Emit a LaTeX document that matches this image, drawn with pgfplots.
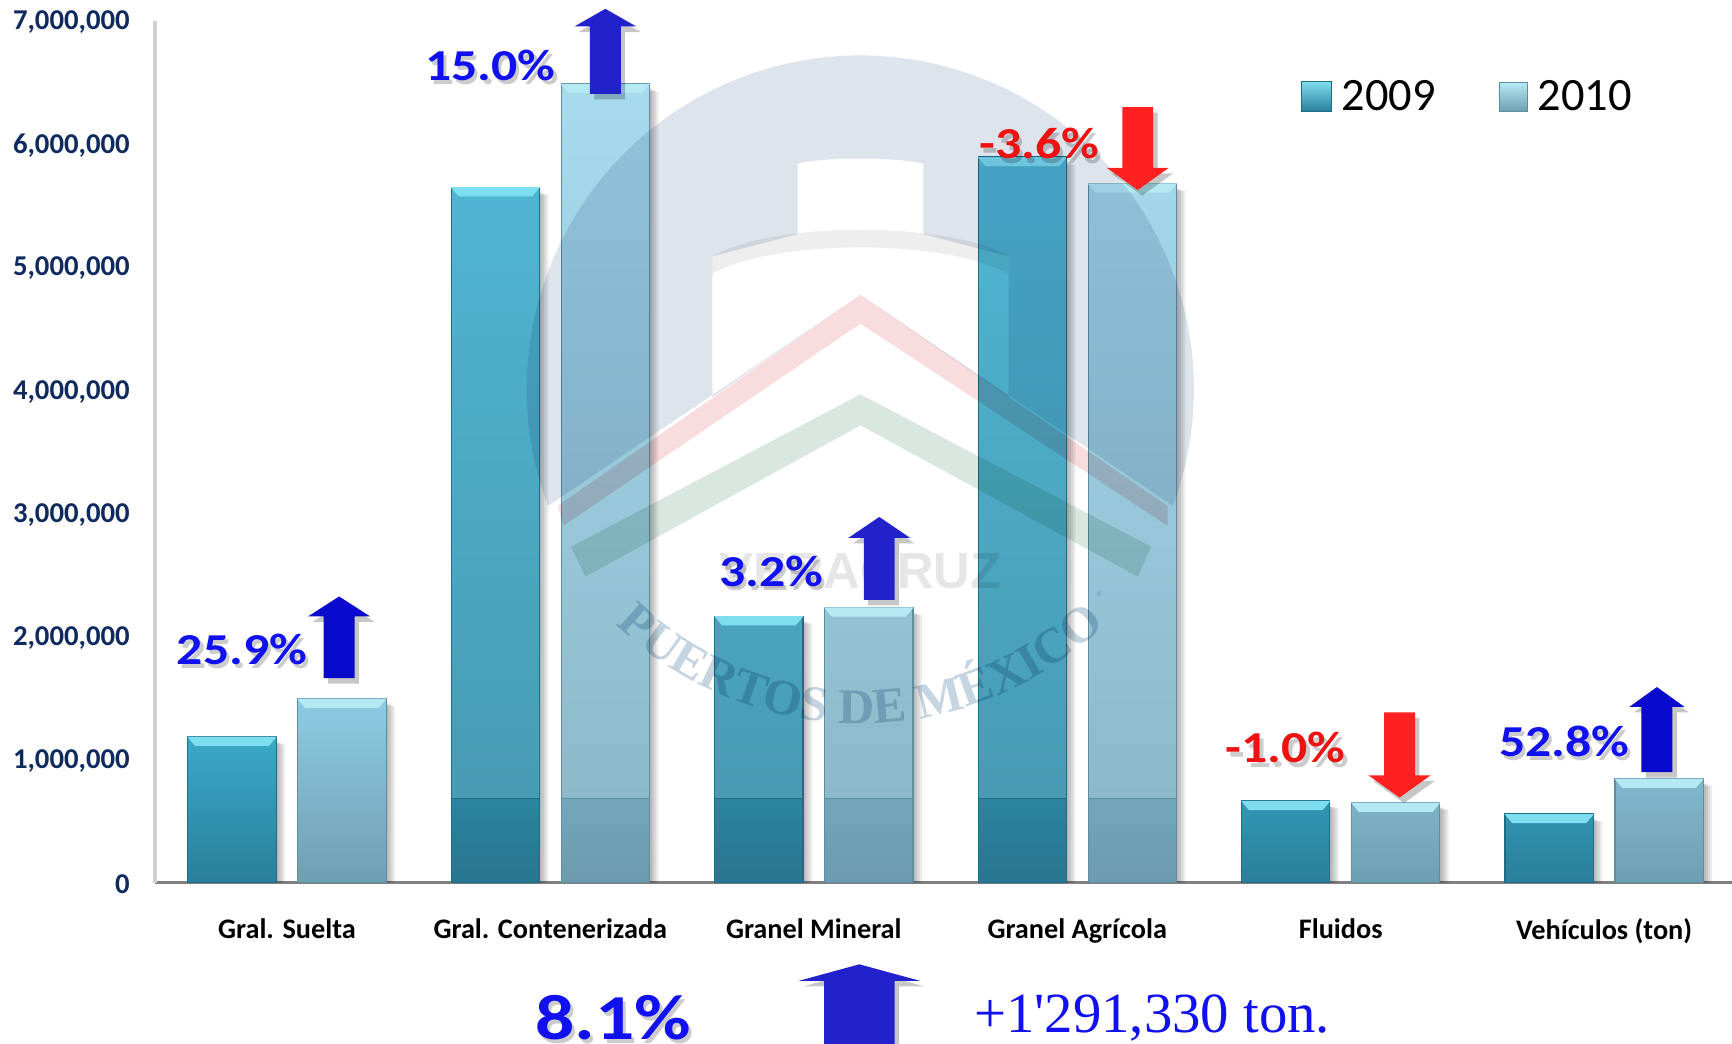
\documentclass[border=0pt]{standalone}
\usepackage{pgfplots}
\usepackage{pgfplotstable}
\pgfplotsset{compat=1.18}
\usepackage{fontspec}
\setmainfont{Carlito}
\newfontfamily\timesf{Liberation Serif}
\newfontfamily\arialf{Liberation Sans}
\usetikzlibrary{decorations.text}
\definecolor{nav}{HTML}{0F2A5F}
\definecolor{aS1}{HTML}{3AA9C8}\definecolor{aS2}{HTML}{2A7F9A}
\definecolor{bS1}{HTML}{8ECCE4}\definecolor{bS2}{HTML}{6F9FB1}
\definecolor{aT1}{HTML}{50B6D3}\definecolor{aT2}{HTML}{4798B0}
\definecolor{bT1}{HTML}{A6DBED}\definecolor{bT2}{HTML}{8AB6C7}
\definecolor{aB1}{HTML}{2B849F}\definecolor{aB2}{HTML}{27768F}
\definecolor{bB1}{HTML}{72A7BA}\definecolor{bB2}{HTML}{6C9BAD}
\definecolor{aE}{HTML}{1F6C85}\definecolor{bE}{HTML}{5E8EA0}
\definecolor{aL}{HTML}{7FDDF0}\definecolor{bL}{HTML}{B5EAF5}
\definecolor{up}{HTML}{0A0ACC}\definecolor{upb}{HTML}{2222CC}
\definecolor{dn}{HTML}{FF2020}\definecolor{tb}{HTML}{1010F0}\definecolor{tr}{HTML}{EE1111}
\definecolor{wmA}{HTML}{DEE4EC}\definecolor{wmB}{HTML}{EEEEEE}
\definecolor{wmR}{HTML}{F8DCDE}\definecolor{wmG}{HTML}{DAE7E0}
\definecolor{wmV}{HTML}{E6E6E6}\definecolor{wmP}{HTML}{C4D4E0}
\pgfplotstableread{
x a b
0 1185000 1495000
4 664000 650000
5 557000 845000
}\shortbars
\pgfplotstableread{
x a b
1 5650000 6490000
2 2165000 2235000
3 5895000 5680000
}\tallbars
\pgfplotstableread{
x a b
1 680000 680000
2 680000 680000
3 680000 680000
}\bandbars
% top bevel of a bar: #1 group, #2 value, #3 colour, #4 side (-1 / 1)
\newcommand\bevel[4]{%
  \pgfmathsetmacro\xa{#1+#4*0.2086-0.1696}%
  \pgfmathsetmacro\xb{#1+#4*0.2086+0.1696}%
  \pgfmathsetmacro\xc{#1+#4*0.2086+0.1400}%
  \pgfmathsetmacro\xd{#1+#4*0.2086-0.1400}%
  \edef\tmp{\noexpand\addplot[fill=#3,draw=none,forget plot] coordinates {(\xa,#2) (\xb,#2) (\xc,\the\numexpr#2-75000\relax) (\xd,\the\numexpr#2-75000\relax)} --cycle;}%
  \tmp}
\newcommand\shadowlayer[1]{%
  \addplot[ybar,bar width=40pt,bar shift=-24.9pt+#1,fill=black,fill opacity=.08,draw=none,forget plot] table[x=x,y expr=\thisrow{a}-30000-#1*8000]{\shortbars};
  \addplot[ybar,bar width=40pt,bar shift=24.9pt+#1,fill=black,fill opacity=.08,draw=none,forget plot] table[x=x,y expr=\thisrow{b}-30000-#1*8000]{\shortbars};
  \addplot[ybar,bar width=40pt,bar shift=-24.9pt+#1,fill=black,fill opacity=.08,draw=none,forget plot] table[x=x,y expr=\thisrow{a}-30000-#1*8000]{\tallbars};
  \addplot[ybar,bar width=40pt,bar shift=24.9pt+#1,fill=black,fill opacity=.08,draw=none,forget plot] table[x=x,y expr=\thisrow{b}-30000-#1*8000]{\tallbars};
}
\newcommand\upx[7]{% apex x, apex y, base y, half head, half shaft, end y, colour
  \fill[black,opacity=.22] (#1+4,#2+5) -- (#1+4+#4,#3+5) -- (#1+4+#5,#3+5) -- (#1+4+#5,#6+5) -- (#1+4-#5,#6+5) -- (#1+4-#5,#3+5) -- (#1+4-#4,#3+5) -- cycle;
  \fill[#7] (#1,#2) -- (#1+#4,#3) -- (#1+#5,#3) -- (#1+#5,#6) -- (#1-#5,#6) -- (#1-#5,#3) -- (#1-#4,#3) -- cycle;}
\newcommand\lab[6]{% x,y,size,colour,text,xscale
  \node[text=black,opacity=.2,font=\fontsize{#3}{#3}\selectfont\bfseries,inner sep=0] at (#1+3,#2+4) {\scalebox{#6}[1]{#5}};
  \node[text=#4,font=\fontsize{#3}{#3}\selectfont\bfseries,inner sep=0] at (#1,#2) {\scalebox{#6}[1]{#5}};}
\begin{document}
\begin{tikzpicture}[x=0.5pt,y=-0.5pt]
\path[use as bounding box] (0,0) rectangle (1568,945.1);
\begin{axis}[
  at={(70.25pt,-399.5pt)},anchor=south west,
  scale only axis,width=715.5pt,height=390pt,
  xmin=-0.5,xmax=5.5,ymin=0,ymax=7000000,
  clip=false,
  axis y line*=left,axis x line*=bottom,
  x axis line style={draw=black!50,line width=1pt,-},
  y axis line style={draw=black!18,line width=1.6pt,-},
  xtick={0,1,2,3,4,5},
  xticklabels={Gral. Suelta,Gral. Contenerizada,Granel Mineral,Granel Agrícola,Fluidos,Vehículos (ton)},
  x tick label style={font=\fontsize{12.8}{14}\selectfont\bfseries,yshift=-12.8pt},
  ytick={0,1000000,2000000,3000000,4000000,5000000,6000000,7000000},
  scaled y ticks=false,
  y tick label style={font=\fontsize{13}{14}\selectfont\bfseries,text=nav,xshift=-8pt,yshift=-.6pt,
    /pgf/number format/fixed,/pgf/number format/1000 sep={,},/pgf/number format/assume math mode=true},
  major tick length=0pt,
  legend columns=2,
  legend style={at={(0.831,0.912)},anchor=center,draw=none,fill=none,
    font=\fontsize{21}{25}\selectfont,
    /tikz/every odd column/.append style={column sep=2.5pt},
    /tikz/every even column/.append style={column sep=26.5pt}},
  legend cell align=left,
]
\shadowlayer{1pt}\shadowlayer{2pt}\shadowlayer{3pt}\shadowlayer{4pt}
\addplot[ybar,bar width=40pt,bar shift=-24.9pt,top color=aS1,bottom color=aS2,draw=aE,line width=.5pt,
  legend image code/.code={\fill[top color=aL,bottom color=aS2,draw=aE,line width=.3pt] (0pt,-6.5pt) rectangle (13.5pt,7pt);}]
  table[x=x,y=a]{\shortbars};
\addlegendentry{2009}
\addplot[ybar,bar width=40pt,bar shift=24.9pt,top color=bS1,bottom color=bS2,draw=bE,line width=.5pt,
  legend image code/.code={\fill[top color=bL,bottom color=bS2,draw=bE,line width=.3pt] (0pt,-6.5pt) rectangle (13pt,6.5pt);}]
  table[x=x,y=b]{\shortbars};
\addlegendentry{2010}
\addplot[ybar,bar width=40pt,bar shift=-24.9pt,top color=aT1,bottom color=aT2,draw=aE,line width=.5pt,forget plot] table[x=x,y=a]{\tallbars};
\addplot[ybar,bar width=40pt,bar shift=24.9pt,top color=bT1,bottom color=bT2,draw=bE,line width=.5pt,forget plot] table[x=x,y=b]{\tallbars};
\addplot[ybar,bar width=40pt,bar shift=-24.9pt,top color=aB1,bottom color=aB2,draw=aE,line width=.5pt,forget plot] table[x=x,y=a]{\bandbars};
\addplot[ybar,bar width=40pt,bar shift=24.9pt,top color=bB1,bottom color=bB2,draw=bE,line width=.5pt,forget plot] table[x=x,y=b]{\bandbars};
\bevel{0}{1185000}{aL}{-1}\bevel{0}{1495000}{bL}{1}
\bevel{1}{5650000}{aL}{-1}\bevel{1}{6490000}{bL}{1}
\bevel{2}{2165000}{aL}{-1}\bevel{2}{2235000}{bL}{1}
\bevel{3}{5895000}{aL}{-1}\bevel{3}{5680000}{bL}{1}
\bevel{4}{664000}{aL}{-1}\bevel{4}{650000}{bL}{1}
\bevel{5}{557000}{aL}{-1}\bevel{5}{845000}{bL}{1}
\end{axis}
% watermark
\begin{scope}[blend mode=multiply]
\fill[wmA,even odd rule]
  (496,458) arc[start angle=159.5,end angle=380.5,radius=302]
  -- (779,267) -- cycle
  (722,148) .. controls (750,142) and (808,142) .. (836,148)
  -- (836,212) -- (913,232) -- (913,359.5) -- (779,267) -- (645,359.5) -- (645,232) -- (722,212) -- cycle;
\fill[wmB]
  (645,232) .. controls (700,200) and (858,200) .. (913,232) -- (913,248) .. controls (858,216) and (700,216) .. (645,248) -- cycle;
\fill[wmR]
  (505,458) -- (779,267) -- (1057,458) -- (1057,476) -- (779,293) -- (510,476) -- cycle;
\fill[wmG]
  (517,495) -- (779,357) -- (1042,495) -- (1030,522) -- (779,385) -- (530,522) -- cycle;
\node[text=wmV,font=\arialf\fontsize{23}{23}\selectfont\bfseries,inner sep=0] at (779,517) {VERACRUZ};
\path[decorate,decoration={text along path,text align=center,
   text={|\timesf\fontsize{22.6}{22.6}\selectfont\bfseries\color{wmP}|PUERTOS DE MÉXICO}}]
   (779,336) ++(138:319) arc[start angle=138,end angle=42,radius=319];
\node[text=wmP,font=\fontsize{7}{7}\selectfont,inner sep=0] at (996,541) {®};
\end{scope}
% arrows
\upx{307}{540}{558}{28}{14}{614}{up}
\upx{548}{8}{24}{28}{14}{85}{upb}
\upx{796}{468}{487}{28}{14}{543}{upb}
\upx{1500}{622}{640}{25}{14}{699}{up}
\upx{1030}{172}{152}{28}{14}{97}{dn}
\upx{1267}{722}{702}{28}{14}{645}{dn}
\upx{778}{873}{888}{55}{32}{945}{upb}
% labels
\lab{219}{588}{20}{tb}{25.9\%}{1.17}
\lab{444}{59}{20}{tb}{15.0\%}{1.17}
\lab{698}{517}{20}{tb}{3.2\%}{1.17}
\lab{941}{130}{20}{tr}{-3.6\%}{1.17}
\lab{1164}{677}{20}{tr}{-1.0\%}{1.17}
\lab{1416}{671}{20}{tb}{52.8\%}{1.17}
\lab{555}{921}{29}{tb}{8.1\%}{1.21}
\node[text=tb,font=\timesf\fontsize{25.7}{25.7}\selectfont,inner sep=0] at (1043,922) {+1'291,330 ton.};
\end{tikzpicture}
\end{document}
